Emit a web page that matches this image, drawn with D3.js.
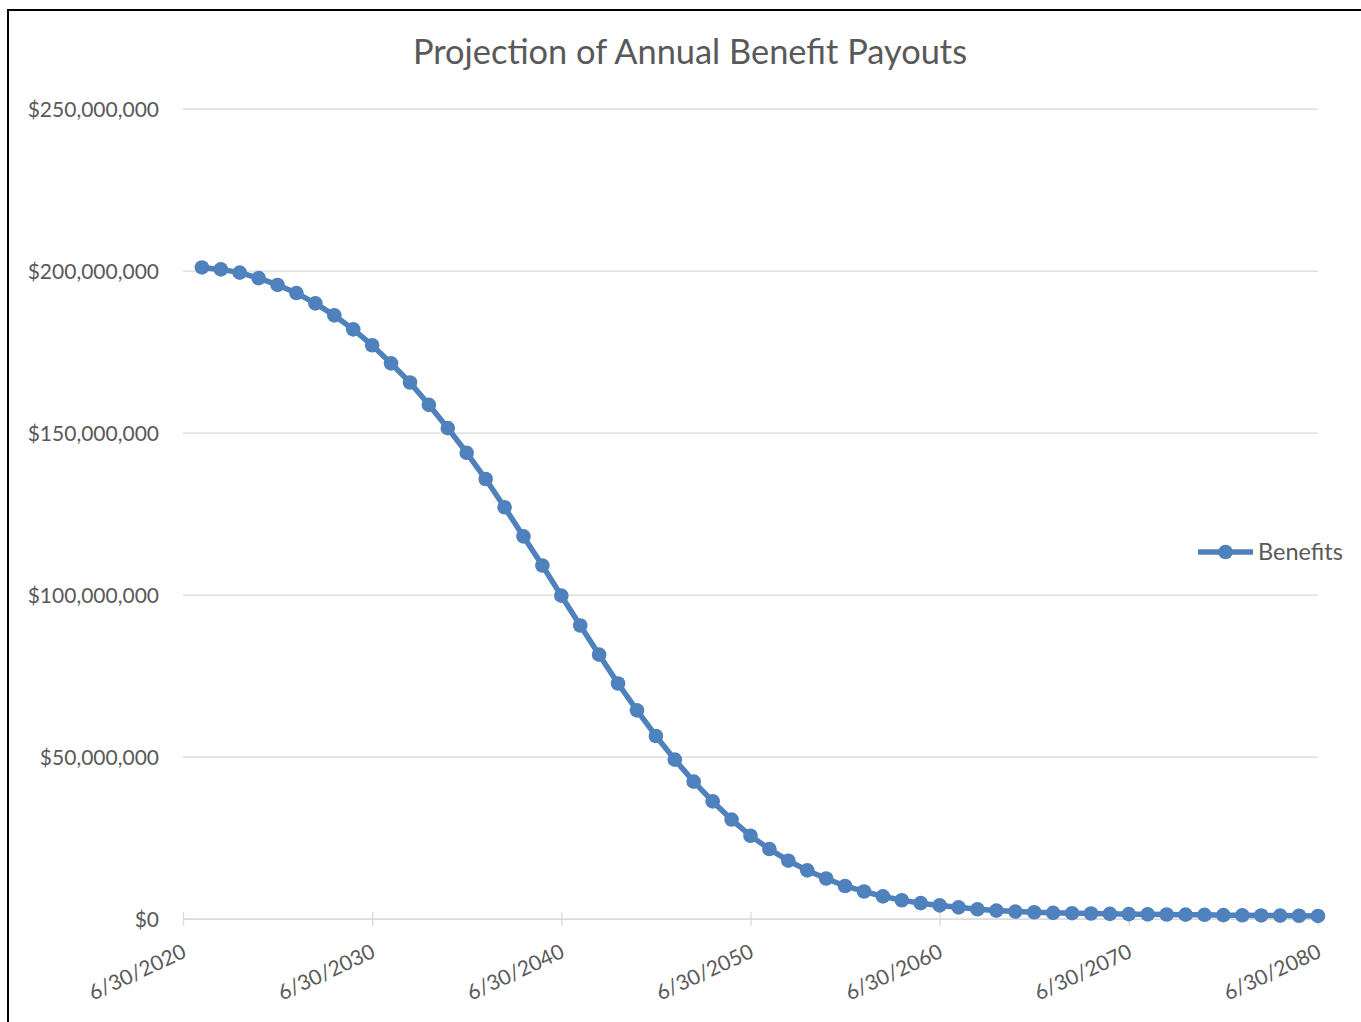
<!DOCTYPE html>
<html>
<head>
<meta charset="utf-8">
<title>Projection of Annual Benefit Payouts</title>
<script src="https://cdn.jsdelivr.net/npm/d3@7"></script>
<style>
  html, body { margin: 0; padding: 0; background: #ffffff; overflow: hidden; }
  svg { display: block; }
</style>
</head>
<body>
<div id="chart"></div>
<script>
// Chart data (benefits in millions of dollars, one per fiscal year ending 6/30)
const YEARS = d3.range(2021, 2081);
const BENEFITS_M = [
  201.0, 200.4, 199.4, 197.7, 195.6, 193.1, 189.9, 186.2, 181.9, 177.0,
  171.4, 165.5, 158.6, 151.4, 143.8, 135.7, 127.0, 118.0, 109.0, 99.7,
  90.5, 81.5, 72.6, 64.3, 56.4, 49.1, 42.3, 36.2, 30.6, 25.6,
  21.5, 17.9, 14.9, 12.4, 10.1, 8.4, 6.9, 5.7, 4.8, 4.1,
  3.5, 2.9, 2.5, 2.2, 2.0, 1.8, 1.7, 1.6, 1.5, 1.4,
  1.35, 1.3, 1.25, 1.2, 1.1, 1.05, 1.0, 0.95, 0.9, 0.85
];
const Y_TICKS = [0, 50e6, 100e6, 150e6, 200e6, 250e6];
const X_TICK_YEARS = [2020, 2030, 2040, 2050, 2060, 2070, 2080];
const SERIES_NAME = "Benefits";
const TITLE = "Projection of Annual Benefit Payouts";

//==========================================
// Layout
//==========================================
const WIDTH = 1361;
const HEIGHT = 1022;
const PLOT = { left: 183, right: 1318, top: 108.7, bottom: 918.7 };
const FONT = "Lato, 'Open Sans', sans-serif";
const TEXT_COLOR = "#595959";
const GRID_COLOR = "#d9d9d9";
const LINE_COLOR = "#4f81bd";

const juneThirty = (y) => new Date(y, 5, 30);
const data = YEARS.map((y, i) => ({ date: juneThirty(y), value: BENEFITS_M[i] * 1e6 }));

const svg = d3.select("#chart").append("svg")
  .attr("width", WIDTH)
  .attr("height", HEIGHT)
  .style("font-family", FONT);

svg.append("rect")
  .attr("width", WIDTH).attr("height", HEIGHT)
  .style("fill", "#ffffff");

// Chart frame (only left and top edges are visible in the crop)
svg.append("rect")
  .attr("x", 8).attr("y", 10)
  .attr("width", WIDTH + 20).attr("height", HEIGHT + 20)
  .style("fill", "none")
  .style("stroke", "#000000")
  .style("stroke-width", 2);

// Scales
const x = d3.scaleTime()
  .domain([juneThirty(2020), juneThirty(2080)])
  .range([PLOT.left, PLOT.right]);

const y = d3.scaleLinear()
  .domain([0, 250e6])
  .range([PLOT.bottom, PLOT.top]);

//==========================================
// Axes and gridlines
//==========================================
const yAxis = svg.append("g")
  .attr("transform", `translate(${PLOT.left},0)`)
  .call(d3.axisLeft(y)
    .tickValues(Y_TICKS)
    .tickSize(-(PLOT.right - PLOT.left))
    .tickPadding(24)
    .tickFormat(d => "$" + d3.format(",")(d)));

yAxis.select(".domain").remove();
yAxis.selectAll(".tick line")
  .style("stroke", GRID_COLOR)
  .style("stroke-width", 1.3);
yAxis.selectAll(".tick text")
  .style("font-size", "21px")
  .style("font-family", FONT)
  .style("fill", TEXT_COLOR)
  .attr("dy", "0.35em");

const xAxis = svg.append("g")
  .attr("transform", `translate(0,${PLOT.bottom})`)
  .call(d3.axisBottom(x)
    .tickValues(X_TICK_YEARS.map(juneThirty))
    .tickSizeInner(7)
    .tickSizeOuter(0)
    .tickFormat(d3.timeFormat("%-m/%d/%Y")));

xAxis.select(".domain")
  .style("stroke", GRID_COLOR)
  .style("stroke-width", 1.3);
xAxis.selectAll(".tick line")
  .attr("y1", -7)
  .style("stroke", GRID_COLOR)
  .style("stroke-width", 1.3);
xAxis.selectAll(".tick text")
  .style("font-size", "21px")
  .style("font-family", FONT)
  .style("fill", TEXT_COLOR)
  .style("text-anchor", "end")
  .attr("x", 0).attr("y", 0).attr("dy", 0)
  .attr("transform", "translate(4,38) rotate(-25)");

//==========================================
// Series line and markers
//==========================================
const line = d3.line()
  .x(d => x(d.date))
  .y(d => y(d.value));

svg.append("path")
  .datum(data)
  .attr("d", line)
  .style("fill", "none")
  .style("stroke", LINE_COLOR)
  .style("stroke-width", 5.5)
  .style("stroke-linejoin", "round");

svg.selectAll(".marker")
  .data(data)
  .enter().append("circle")
  .attr("class", "marker")
  .attr("cx", d => x(d.date))
  .attr("cy", d => y(d.value))
  .attr("r", 7.3)
  .style("fill", LINE_COLOR);

//==========================================
// Title and legend
//==========================================
svg.append("text")
  .attr("x", 690)
  .attr("y", 64)
  .style("text-anchor", "middle")
  .style("font-size", "34.4px")
  .style("fill", TEXT_COLOR)
  .text(TITLE);

const legend = svg.append("g").attr("transform", "translate(1198,552)");
legend.append("line")
  .attr("x1", 0).attr("x2", 55)
  .style("stroke", LINE_COLOR)
  .style("stroke-width", 5.5);
legend.append("circle")
  .attr("cx", 27.5).attr("r", 7.3)
  .style("fill", LINE_COLOR);
legend.append("text")
  .attr("x", 60)
  .attr("dy", "0.35em")
  .style("font-size", "23.5px")
  .style("fill", TEXT_COLOR)
  .text(SERIES_NAME);
</script>
</body>
</html>
